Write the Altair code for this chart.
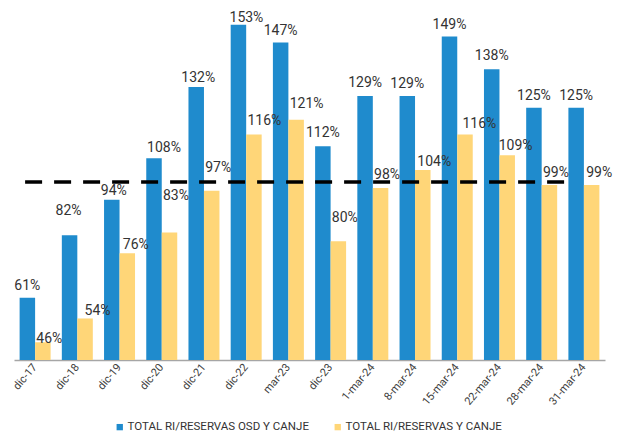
import altair as alt
import pandas as pd

categories = ["dic-17", "dic-18", "dic-19", "dic-20", "dic-21", "dic-22", "mar-23",
              "dic-23", "1-mar-24", "8-mar-24", "15-mar-24", "22-mar-24",
              "28-mar-24", "31-mar-24"]
osd_canje = [61, 82, 94, 108, 132, 153, 147, 112, 129, 129, 149, 138, 125, 125]
reservas_canje = [46, 54, 76, 83, 97, 116, 121, 80, 98, 104, 116, 109, 99, 99]
threshold = [100] * len(categories)

S1 = "TOTAL RI/RESERVAS OSD Y CANJE"
S2 = "TOTAL RI/RESERVAS Y CANJE"

# label placement styling (pixels): lift above bar top and horizontal nudge
lift_s1 = [8, 20, 5, 6, 5, 3, 7, 9, 9, 8, 8, 9, 8, 8]
nudge_s1 = [0, -1, 2, 10, 2, 8, 0, 0, 0, 0, 0, 0, 0, 0]
lift_s2 = [-1, 3, 4, 32, 19, 9, 12, 19, 9, 4, 6, 5, 8, 8]
nudge_s2 = [0, 6, 2, 0, 0, 0, 0, 0, 0, 1, 4, -2, 0, 1]

rows = []
for i, c in enumerate(categories):
    rows.append({"cat": c, "serie": S1, "value": osd_canje[i],
                 "lift": lift_s1[i], "nudge": nudge_s1[i]})
    rows.append({"cat": c, "serie": S2, "value": reservas_canje[i],
                 "lift": lift_s2[i], "nudge": nudge_s2[i] - 6.5})
df = pd.DataFrame(rows)
df_line = pd.DataFrame({"cat": categories, "value": threshold})

FONT = "Roboto"
YMIN = 40

xscale = alt.Scale(domain=categories, paddingInner=0.266, paddingOuter=0.133)
yscale = alt.Scale(domain=[YMIN, 156.6], nice=False, zero=False)

x = alt.X("cat:N", scale=xscale, sort=categories, title=None,
          axis=alt.Axis(labelAngle=-50, labelFontSize=11, labelColor="#404040",
                        labelFont=FONT, ticks=False, domainColor="#A6A6A6",
                        domainWidth=1.5, labelPadding=5))

color = alt.Color("serie:N",
                  scale=alt.Scale(domain=[S1, S2], range=["#1F8BCD", "#FFD678"]),
                  legend=alt.Legend(title=None, orient="none", direction="horizontal",
                                    legendX=100, legendY=407, symbolType="square",
                                    symbolSize=40, symbolStrokeWidth=0,
                                    labelFont=FONT, labelFontSize=11.5, labelLimit=0,
                                    labelColor="#333333", columnPadding=23,
                                    symbolOffset=0, labelOffset=2))

base = alt.Chart(df)

bars = base.mark_bar().encode(
    x=x,
    xOffset=alt.XOffset("serie:N", sort=[S1, S2]),
    y=alt.Y("value:Q", scale=yscale, axis=None),
    y2=alt.datum(YMIN),
    color=color,
)

lab1 = base.transform_filter(alt.datum.serie == S1).transform_calculate(
    lbl="datum.value + '%'"
).mark_text(font=FONT, fontSize=14, color="#333333", baseline="alphabetic",
            align="center", dy=alt.expr("-datum.lift"), dx=alt.expr("datum.nudge")).encode(
    x=alt.X("cat:N", scale=xscale, sort=categories),
    xOffset=alt.XOffset("serie:N", sort=[S1, S2]),
    y=alt.Y("value:Q", scale=yscale),
    text="lbl:N",
)

lab2 = base.transform_filter(alt.datum.serie == S2).transform_calculate(
    lbl="datum.value + '%'"
).mark_text(font=FONT, fontSize=14, color="#333333", baseline="alphabetic",
            align="left", dy=alt.expr("-datum.lift"), dx=alt.expr("datum.nudge")).encode(
    x=alt.X("cat:N", scale=xscale, sort=categories),
    xOffset=alt.XOffset("serie:N", sort=[S1, S2]),
    y=alt.Y("value:Q", scale=yscale),
    text="lbl:N",
)

line = alt.Chart(df_line).mark_line(
    color="black", strokeWidth=3.5, strokeDash=[17, 12], xOffset=-10
).encode(
    x=alt.X("cat:N", scale=xscale, sort=categories),
    y=alt.Y("value:Q", scale=yscale),
)

chart = alt.layer(bars, line, lab1, lab2).properties(
    width=591, height=346,
    autosize=alt.AutoSizeParams(type="none"),
    padding={"left": 6, "top": 6, "right": 10, "bottom": 76},
).configure_view(stroke=None)

chart.save("out.html", embed_options={"renderer": "svg", "actions": False})
